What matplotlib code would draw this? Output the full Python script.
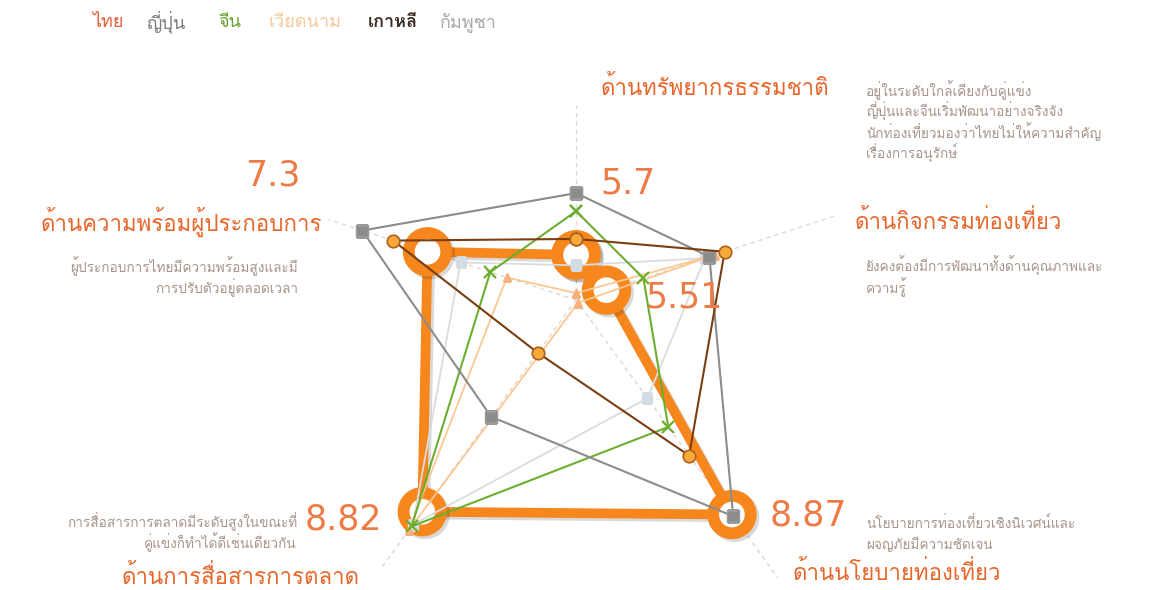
import numpy as np
import matplotlib
matplotlib.use("Agg")
import matplotlib.pyplot as plt
import matplotlib.patheffects as pe
from matplotlib import font_manager
from matplotlib.ft2font import FT2Font

# pick any installed family that has Thai glyphs
thai_families = []
for f in font_manager.fontManager.ttflist:
    try:
        if ord('ก') in FT2Font(f.fname).get_charmap() and f.name not in thai_families:
            thai_families.append(f.name)
    except Exception:
        pass
plt.rcParams['font.family'] = thai_families + ['DejaVu Sans']

categories = ['ด้านทรัพยากรธรรมชาติ', 'ด้านกิจกรรมท่องเที่ยว', 'ด้านนโยบายท่องเที่ยว',
              'ด้านการสื่อสารการตลาด', 'ด้านความพร้อมผู้ประกอบการ']
thai = [5.7, 5.51, 8.87, 8.82, 7.3]
japan = [6.59, 7.07, 8.90, 7.13, 8.29]
china = [6.33, 6.07, 7.31, 9.08, 6.35]
vietnam = [5.15, 7.15, 5.1, 9.15, 6.1]
korea = [5.93, 7.30, 7.82, 5.99, 7.82]
cambodia = [5.55, 7.0, 6.8, 9.05, 6.8]
country_names = ['ไทย', 'ญี่ปุ่น', 'จีน', 'เวียดนาม', 'เกาหลี', 'กัมพูชา']

notes = [
    ['อยู่ในระดับใกล้เคียงกับคู่แข่ง', 'ญี่ปุ่นและจีนเริ่มพัฒนาอย่างจริงจัง',
     'นักท่องเที่ยวมองว่าไทยไม่ให้ความสำคัญ', 'เรื่องการอนุรักษ์'],
    ['ยังคงต้องมีการพัฒนาทั้งด้านคุณภาพและ', 'ความรู้'],
    ['นโยบายการท่องเที่ยวเชิงนิเวศน์และ', 'ผจญภัยมีความชัดเจน'],
    ['การสื่อสารการตลาดมีระดับสูงในขณะที่', 'คู่แข่งก็ทำได้ดีเช่นเดียวกัน'],
    ['ผู้ประกอบการไทยมีความพร้อมสูงและมี', 'การปรับตัวอยู่ตลอดเวลา'],
]

angles = np.linspace(0, 2 * np.pi, len(categories), endpoint=False)
closed = np.append(angles, angles[0])

def loop(v):
    return np.append(v, v[0])

fig = plt.figure(figsize=(11.74, 5.90), dpi=100)
ax = fig.add_axes([0.2394, -0.0085, 0.5026, 1.0], projection='polar')
ax.set_theta_offset(np.pi / 2)
ax.set_theta_direction(-1)
ax.set_ylim(5.05, 9.3)
ax.axis('off')

# dashed guide lines from the centre out to the labels
guide_len = [7.86, 9.0, 10.0, 9.8, 8.8]
for a, g in zip(angles, guide_len):
    ax.plot([a, a], [5.05, g], ls=(0, (3, 3)), color='#e2d6cd', lw=1, clip_on=False, zorder=1)

orange = '#f7861c'
ax.plot(closed, loop(thai), color=orange, lw=7, marker='o', ms=27, mfc='white', mec=orange,
        mew=8.5, zorder=2, solid_joinstyle='miter',
        path_effects=[pe.SimpleLineShadow(offset=(2, -2), alpha=0.15), pe.Normal()])
ax.plot(closed, loop(cambodia), color='#d9dcdf', lw=1.3, marker='s', ms=7,
        mfc='#d3dbe3', mec='#d3dbe3', zorder=3)
ax.plot(closed, loop(vietnam), color='#fbc793', lw=1.3, marker='^', ms=6,
        mfc='#f6b07c', mec='#f6b07c', zorder=3)
ax.plot(closed, loop(china), color='#6cae2f', lw=1.5, marker='x', ms=8, mew=1.6, zorder=4)
ax.plot(closed, loop(japan), color='#8c8c8c', lw=1.5, marker='s', ms=8,
        mfc='#8c8c8c', mec='#9a9a9a', zorder=4)
ax.plot(closed, loop(korea), color='#7a3e12', lw=1.5, marker='o', ms=9,
        mfc='#f7a93c', mec='#b0601a', mew=1.2, zorder=5)

# legend row
legend_colors = ['#e2603a', '#7d7d7d', '#6aa02a', '#f6c99c', '#3b2b22', '#a9a9a9']
legend_x = [92, 146, 218, 268, 368, 440]
for name, c, x in zip(country_names, legend_colors, legend_x):
    fig.text(x / 1174, 1 - 22 / 590, name, color=c, fontsize=13, va='center', ha='left',
             fontweight='bold' if name == 'เกาหลี' else 'normal')

# category titles
title_c = '#e8662a'
title_pos = [(600, 88, 'left'), (855, 222, 'left'), (793, 573, 'left'),
             (360, 577, 'right'), (322, 222, 'right')]
for cat, (x, y, ha) in zip(categories, title_pos):
    fig.text(x / 1174, 1 - y / 590, cat, color=title_c, fontsize=16, ha=ha, va='center')

# Thai scores
num_c = '#ee7a45'
num_pos = [(600, 183, 'left'), (645, 298, 'left'), (770, 515, 'left'),
           (382, 520, 'right'), (300, 175, 'right')]
for v, (x, y, ha) in zip(thai, num_pos):
    fig.text(x / 1174, 1 - y / 590, f'{v:g}', color=num_c, fontsize=25, ha=ha, va='center',
             family=['DejaVu Sans'])

# notes, one text per line so the spacing stays even
note_c = '#a8958a'
note_pos = [(866, 96, 'left'), (866, 272, 'left'), (866, 528, 'left'),
            (297, 527, 'right'), (298, 272, 'right')]
for lines, (x, y, ha) in zip(notes, note_pos):
    for i, line in enumerate(lines):
        fig.text(x / 1174, 1 - (y + 21 * i) / 590, line, color=note_c, fontsize=9.8,
                 ha=ha, va='baseline')

fig.savefig('out.png', dpi=100)
